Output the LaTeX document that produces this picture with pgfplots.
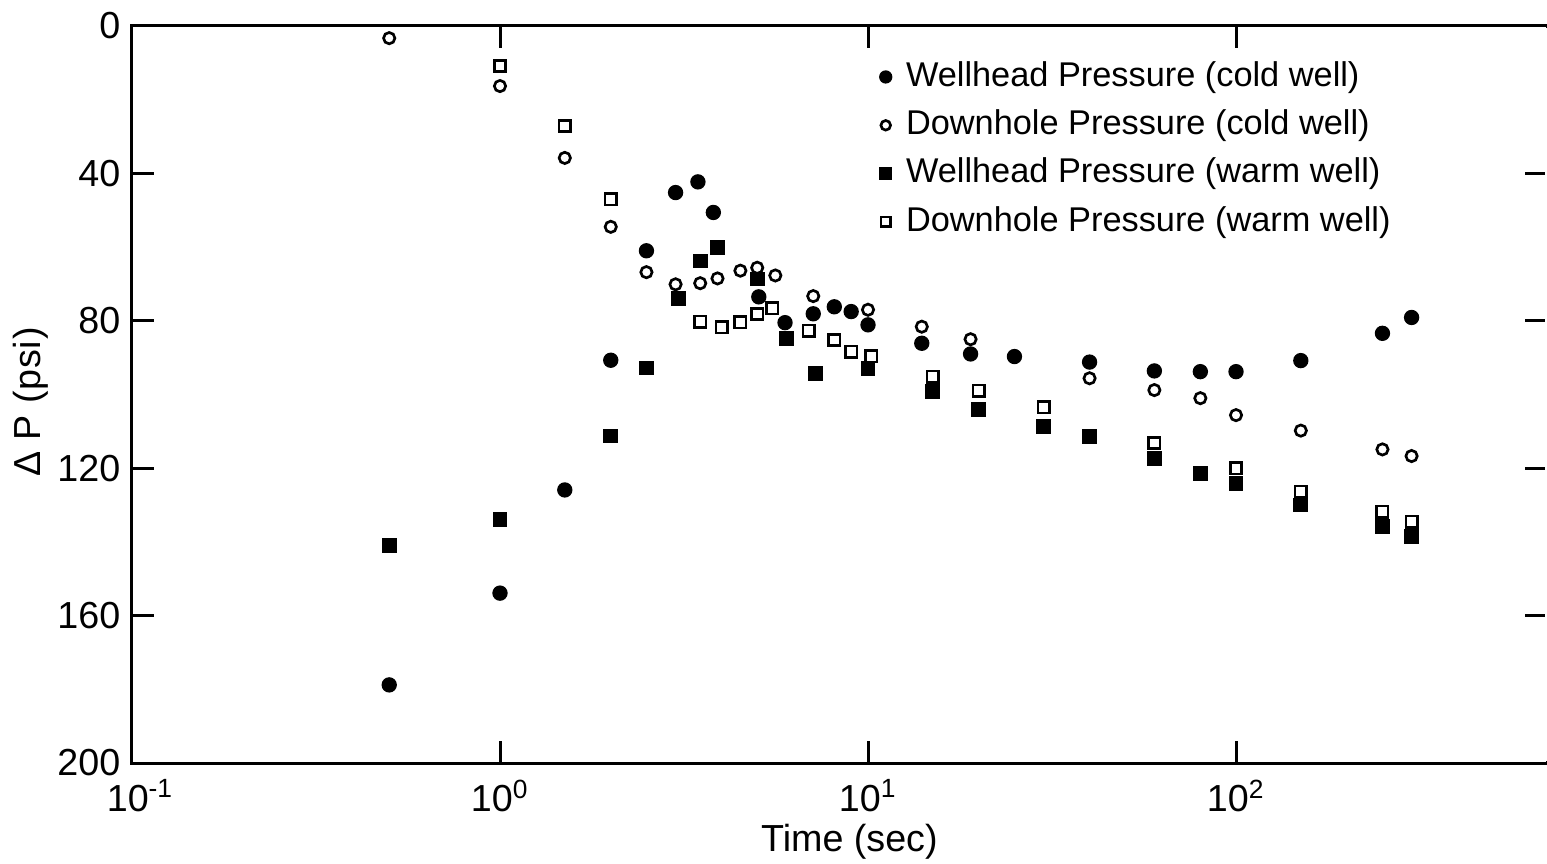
\documentclass[border=0pt]{standalone}
\usepackage{fontspec}
\setmainfont{Liberation Sans}
\usepackage{pgfplots}
\pgfplotsset{compat=1.18}

\begin{document}
\begin{tikzpicture}
\begin{axis}[
    scale only axis,
    width=424.5pt, height=221.1pt,
    xmode=log,
    xmin=0.1, xmax=700,
    ymin=0, ymax=200,
    y dir=reverse,
    xtick={1,10,100},
    extra x ticks={0.1},
    extra x tick style={major tick length=0pt, xticklabel style={xshift=2.5pt}},
    xticklabels={10\textsuperscript{0},10\textsuperscript{1},10\textsuperscript{2}},
    extra x tick labels={10\textsuperscript{-1}},
    xticklabel style={yshift=-1.5pt},
    xminorticks=false,
    ytick={0,40,80,120,160,200},
    /pgf/number format/assume math mode=true,
    tick pos=both,
    tick align=inside,
    major tick length=6.5pt,
    axis line style={line width=0.9pt},
    every tick/.style={black, line width=0.9pt},
    tick label style={font=\fontsize{11.3}{13}\selectfont},
    xlabel={Time (sec)},
    ylabel={\addfontfeature{LetterSpace=2}Δ P (psi)},
    label style={font=\fontsize{11.3}{13}\selectfont},
    xlabel style={at={(axis description cs:0.507,0)}, anchor=center, yshift=-23.5pt},
    ylabel style={at={(axis description cs:-0.0714,0.49)}, anchor=center},
    legend style={
        at={(rel axis cs:0.528,0.960)}, anchor=north west,
        draw=none, fill=none, inner sep=0pt,
        font=\fontsize{10.3}{12}\selectfont,
        nodes={text height=8pt, text depth=2.5pt, inner sep=1pt},
        row sep=2pt,
        /tikz/every odd column/.append style={column sep=3.3pt},
    },
    legend cell align=left,
    legend image code/.code={\draw[#1, every mark/.append style={scale=0.85}] plot coordinates {(0pt,0pt)};},
]
% Wellhead pressure, cold well
\addplot[only marks, mark=*, mark size=2.1pt, black] coordinates {
 (0.5,178.8) (1.0,153.9) (1.5,125.9) (2.0,90.7) (2.5,61) (3.0,45.2)
 (3.45,42.3) (3.8,50.6) (5.05,73.5) (5.95,80.5) (7.1,78.1) (8.1,76.2)
 (9.0,77.5) (10,81.1) (14,86.1) (19,89) (25,89.7) (40,91.2) (60,93.6)
 (80,93.8) (100,93.8) (150,90.8) (250,83.4) (300,79.1)
};
\addlegendentry{Wellhead Pressure (cold well)}
% Downhole pressure, cold well
\addplot[only marks, mark=o, mark size=1.7pt, line width=0.8pt, black] coordinates {
 (0.5,3.3) (1.0,16.3) (1.5,35.8) (2.0,54.5) (2.5,66.8) (3.0,70.1)
 (3.5,69.8) (3.9,68.5) (4.5,66.4) (5.0,65.6) (5.6,67.7) (7.1,73.3)
 (10,77) (14,81.6) (19,85) (40,95.6) (60,98.8) (80,101) (100,105.6)
 (150,109.8) (250,114.9) (300,116.7)
};
\addlegendentry{Downhole Pressure (cold well)}
% Wellhead pressure, warm well
\addplot[only marks, mark=square*, mark size=2.0pt, black] coordinates {
 (0.5,141) (1.0,134) (2.0,111.3) (2.5,92.8) (3.05,73.9) (3.5,63.8)
 (3.9,60.1) (5.0,68.7) (6.0,84.8) (7.2,94.3) (10,92.9) (15,99.2)
 (20,104) (30,108.7) (40,111.4) (60,117.3) (80,121.4) (100,124.1)
 (150,130) (250,135.9) (300,138.6)
};
\addlegendentry{Wellhead Pressure (warm well)}
% Downhole pressure, warm well
\addplot[only marks, mark=square, mark size=1.7pt, line width=0.8pt, black] coordinates {
 (1.0,10.9) (1.5,27.1) (2.0,47) (3.5,80.2) (4.0,81.8) (4.5,80.4)
 (5.0,78.2) (5.5,76.6) (6.9,82.7) (8.1,85.2) (9.0,88.4) (10.2,89.6)
 (15,95.2) (20,99) (30,103.5) (60,113.2) (100,120) (150,126.4)
 (250,131.8) (300,134.5)
};
\addlegendentry{Downhole Pressure (warm well)}
\end{axis}
% the right spine lies outside the cropped original
\draw[white, line width=1.4pt] ([yshift=-0.6pt]current axis.north east) -- ([yshift=0.6pt]current axis.south east);
\pgfresetboundingbox
\path[use as bounding box] ([xshift=-39.6pt,yshift=7.8pt]current axis.north west) rectangle ([yshift=-30pt]current axis.south east);
\end{tikzpicture}
\end{document}
